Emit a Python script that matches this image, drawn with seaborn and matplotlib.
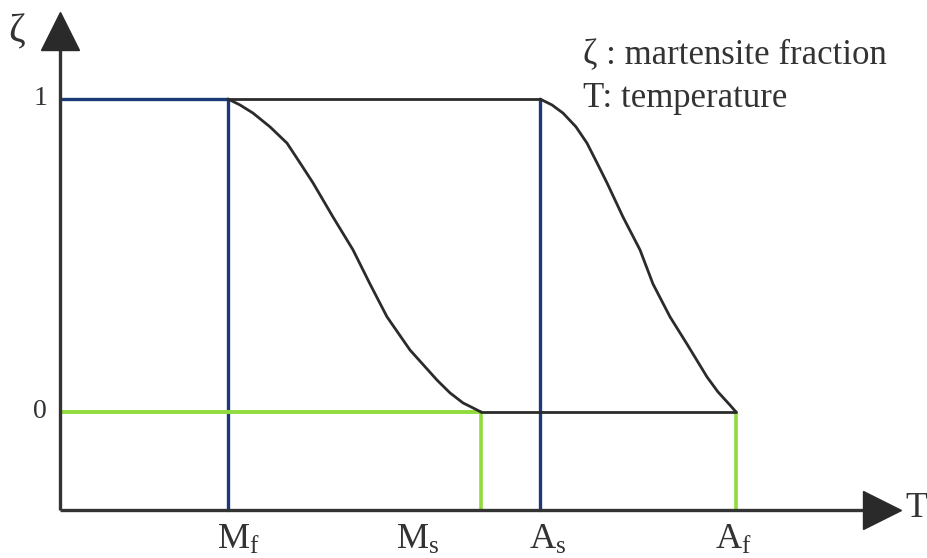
import numpy as np
import pandas as pd
import matplotlib
matplotlib.use('Agg')
import matplotlib.pyplot as plt
import seaborn as sns

# characteristic temperatures (arbitrary units) and their labels
temp_names = ['Mf', 'Ms', 'As', 'Af']
temp_labels = ['M$_\\mathrm{f}$', 'M$_\\mathrm{s}$', 'A$_\\mathrm{s}$', 'A$_\\mathrm{f}$']
temp_values = [1.68, 4.21, 4.80, 6.76]
temp_label_x = [1.78, 3.58, 4.88, 6.73]

# cooling branch (austenite -> martensite)
cool_T = [1.68, 1.80, 1.93, 2.10, 2.27, 2.40, 2.53, 2.73, 2.93, 3.10, 3.27,
          3.50, 3.77, 3.90, 4.03, 4.13, 4.21]
cool_zeta = [1.0, 0.981, 0.955, 0.911, 0.859, 0.796, 0.732, 0.623, 0.518, 0.409, 0.304,
             0.198, 0.102, 0.061, 0.029, 0.013, 0.0]

# heating branch (martensite -> austenite)
heat_T = [4.80, 4.92, 5.03, 5.16, 5.27, 5.37, 5.47, 5.63, 5.80, 5.93, 6.10,
          6.27, 6.47, 6.58, 6.70, 6.76]
heat_zeta = [1.0, 0.981, 0.955, 0.911, 0.859, 0.796, 0.732, 0.623, 0.518, 0.409, 0.304,
             0.217, 0.112, 0.064, 0.022, 0.0]

zeta_ticks = [0, 1]

sns.set_style('white')
plt.rcParams['font.family'] = ['Liberation Serif', 'DejaVu Serif']
plt.rcParams['mathtext.fontset'] = 'custom'
plt.rcParams['mathtext.rm'] = 'Liberation Serif'
plt.rcParams['mathtext.it'] = 'Liberation Serif:italic'

blue = '#1b3a78'
green = '#8fdc3c'
dark = '#2b2b2b'
text_col = '#333333'

fig = plt.figure(figsize=(9.28, 5.58), dpi=100)
ax = fig.add_axes([0, 0, 1, 1])
ax.set_xlim(-0.6, 8.68)
ax.set_ylim(-0.4665, 1.3163)
ax.axis('off')

T = dict(zip(temp_names, temp_values))
z_axis = -0.313  # height of the T axis

# guide lines (blue for zeta = 1 side, green for zeta = 0 side)
ax.plot([0, T['Mf']], [1, 1], color=blue, lw=2.4, solid_capstyle='butt')
ax.plot([T['Mf'], T['Mf']], [z_axis, 1], color=blue, lw=2.4)
ax.plot([T['As'], T['As']], [z_axis, 1], color=blue, lw=2.4)
ax.plot([0, T['Ms']], [0, 0], color=green, lw=2.8, solid_capstyle='butt')
ax.plot([T['Ms'], T['Ms']], [z_axis, 0], color=green, lw=2.6)
ax.plot([T['Af'], T['Af']], [z_axis, 0], color=green, lw=2.6)

# plateaus
ax.plot([T['Mf'], T['As']], [1, 1], color=dark, lw=2.0)
ax.plot([T['Ms'], T['Af']], [0, 0], color=dark, lw=2.0)

# transformation curves
curves = pd.DataFrame({
    'T': cool_T + heat_T,
    'zeta': cool_zeta + heat_zeta,
    'branch': ['cooling'] * len(cool_T) + ['heating'] * len(heat_T),
})
sns.lineplot(data=curves, x='T', y='zeta', units='branch', estimator=None,
             sort=False, color=dark, lw=2.0, ax=ax)
for ln in ax.lines[-2:]:
    ln.set_solid_joinstyle('round')

# axes with arrow heads
ax.plot([0, 0], [z_axis, 1.2], color=text_col, lw=2.4, solid_capstyle='butt')
ax.plot([0, 8.1], [z_axis, z_axis], color=text_col, lw=2.4, solid_capstyle='butt')
ax.plot(0, 1.216, marker='^', markersize=27, color='#2a2a2a', clip_on=False)
ax.plot(8.22, z_axis, marker='>', markersize=28, color='#2a2a2a', clip_on=False)

# tick labels
for x, lab in zip(temp_label_x, temp_labels):
    ax.text(x, -0.462, lab, fontsize=26, ha='center', va='bottom', color=text_col)
for z in zeta_ticks:
    ax.text(-0.13, z, str(z), fontsize=20, ha='right', va='center', color=text_col)

ax.text(-0.43, 1.215, 'ζ', fontsize=29, ha='center', va='center', color=text_col)
ax.text(8.45, z_axis + 0.005, 'T', fontsize=26, ha='left', va='center', color=text_col)

ax.text(5.23, 1.139, 'ζ : martensite fraction', fontsize=25, ha='left', va='center', color=text_col)
ax.text(5.23, 1.003, 'T: temperature', fontsize=25, ha='left', va='center', color=text_col)

fig.savefig('out.png', dpi=100)
